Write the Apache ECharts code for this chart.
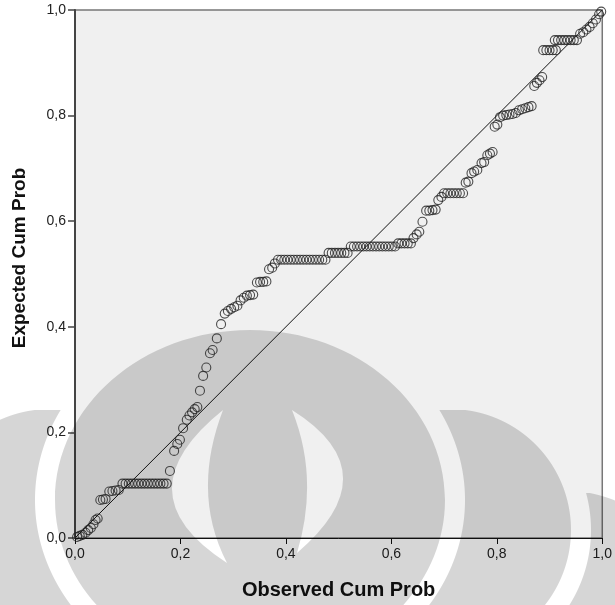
<!DOCTYPE html>
<html><head><meta charset="utf-8">
<script src="https://cdn.jsdelivr.net/npm/echarts@6/dist/echarts.min.js"></script>
<style>html,body{margin:0;padding:0;background:#fff}#c{width:615px;height:605px}</style>
</head><body><div id="c"></div>
<script>
// ---- data ----
const observedCumProb = [
  0.004,0.009,0.014,0.020,0.025,0.030,0.035,0.039,0.043,
  0.048,0.053,0.058,
  0.065,0.071,0.077,0.083,
  0.090,0.096,0.102,0.108,0.114,0.120,0.126,0.132,0.138,0.144,0.150,0.156,0.162,0.168,0.174,
  0.180,0.188,0.194,0.199,0.205,0.212,0.217,0.222,0.227,0.232,0.237,0.243,0.249,0.256,0.261,0.269,0.277,
  0.284,0.290,0.296,0.302,0.308,0.314,0.320,0.326,0.332,0.338,0.345,0.351,0.357,0.363,0.368,0.374,0.379,
  0.385,0.391,0.397,0.403,0.409,0.415,0.421,0.427,0.433,0.439,0.445,0.451,0.457,0.463,0.469,0.475,
  0.481,0.487,0.493,0.499,0.505,0.511,0.517,
  0.523,0.529,0.535,0.541,0.547,0.553,0.559,0.565,0.571,0.577,0.583,0.589,0.595,0.601,0.607,
  0.613,0.619,0.625,0.631,0.637,
  0.642,0.648,0.653,0.659,0.666,0.672,0.678,0.684,0.689,0.695,
  0.700,0.706,0.712,0.718,0.724,0.730,0.736,
  0.741,0.746,0.752,0.757,0.763,0.771,0.776,0.782,0.787,0.792,
  0.796,0.801,0.806,0.812,0.818,0.824,0.830,0.836,0.842,0.848,0.854,0.860,0.866,
  0.871,0.876,0.881,0.886,
  0.888,0.894,0.900,0.906,0.912,
  0.910,0.916,0.922,0.928,0.934,0.940,0.946,0.952,
  0.958,0.964,0.970,0.976,0.982,0.988,0.994,0.998
];
const expectedCumProb = [
  0.002,0.004,0.006,0.010,0.015,0.019,0.026,0.034,0.037,
  0.072,0.073,0.074,
  0.088,0.089,0.090,0.091,
  0.103,0.103,0.103,0.103,0.103,0.103,0.103,0.103,0.103,0.103,0.103,0.103,0.103,0.103,0.103,
  0.127,0.165,0.178,0.186,0.208,0.224,0.232,0.238,0.244,0.248,0.279,0.307,0.323,0.350,0.356,0.378,0.405,
  0.425,0.430,0.434,0.437,0.440,0.450,0.455,0.459,0.460,0.461,0.484,0.485,0.485,0.486,0.509,0.512,0.520,
  0.527,0.527,0.527,0.527,0.527,0.527,0.527,0.527,0.527,0.527,0.527,0.527,0.527,0.527,0.527,0.527,
  0.540,0.540,0.540,0.540,0.540,0.540,0.540,
  0.552,0.552,0.552,0.552,0.552,0.552,0.552,0.552,0.552,0.552,0.552,0.552,0.552,0.552,0.552,
  0.558,0.558,0.558,0.558,0.558,
  0.568,0.575,0.580,0.599,0.620,0.620,0.621,0.622,0.640,0.646,
  0.653,0.653,0.653,0.653,0.653,0.653,0.653,
  0.673,0.675,0.691,0.694,0.697,0.710,0.712,0.725,0.728,0.731,
  0.779,0.783,0.797,0.800,0.801,0.802,0.803,0.805,0.810,0.812,0.814,0.816,0.818,
  0.856,0.862,0.867,0.873,
  0.924,0.924,0.924,0.924,0.924,
  0.943,0.943,0.943,0.943,0.943,0.943,0.943,0.943,
  0.955,0.958,0.963,0.968,0.975,0.982,0.992,0.997
];
const tickLabels = ['0,0','0,2','0,4','0,6','0,8','1,0'];
const tickValues = [0, 0.2, 0.4, 0.6, 0.8, 1.0];
const refLineX = [0, 1];
const refLineY = [0, 1];
const xTitle = 'Observed Cum Prob';
const yTitle = 'Expected Cum Prob';

// ---- background watermark (decoration, not data) ----
const WM_FILL = 'rgba(0,0,0,0.16)';
const DomeShape = echarts.graphic.extendShape({
  type: 'wmDome',
  shape: { cx: 0, cy: 0, rx: 0, ry: 0, holes: [] },
  buildPath(ctx, s) {
    const k = 0.5523, cx = s.cx, cy = s.cy, rx = s.rx, ry = s.ry, kx = rx * k, ky = ry * k;
    ctx.moveTo(cx + rx, cy);
    ctx.bezierCurveTo(cx + rx, cy + ky, cx + kx, cy + ry, cx, cy + ry);
    ctx.bezierCurveTo(cx - kx, cy + ry, cx - rx, cy + ky, cx - rx, cy);
    ctx.bezierCurveTo(cx - rx, cy - ky, cx - kx, cy - ry, cx, cy - ry);
    ctx.bezierCurveTo(cx + kx, cy - ry, cx + rx, cy - ky, cx + rx, cy);
    ctx.closePath();
    (s.holes || []).forEach(h => {
      ctx.moveTo(h[0], h[1]);
      ctx.quadraticCurveTo(h[2], h[3], h[4], h[5]);
      ctx.quadraticCurveTo(h[6], h[7], h[0], h[1]);
      ctx.closePath();
    });
  }
});
echarts.graphic.registerShape('wmDome', DomeShape);

function halfW(E, y) { const d = (y - E.cy) / E.ry; return Math.abs(d) < 1 ? E.rx * Math.sqrt(1 - d * d) : -1; }
function piece(A, B, side, y0, y1) {
  const inner = [], outer = [];
  for (let y = y0; y <= y1; y += 1) {
    const ha = halfW(A, y); if (ha < 0) continue;
    const hb = halfW(B, y);
    let lo, hi;
    if (side > 0) { hi = A.cx + ha; lo = hb < 0 ? A.cx - ha : Math.max(A.cx - ha, B.cx + hb); }
    else { lo = A.cx - ha; hi = hb < 0 ? A.cx + ha : Math.min(A.cx + ha, B.cx - hb); }
    if (hi > lo) { inner.push([lo, y]); outer.push([hi, y]); }
  }
  return inner.concat(outer.reverse());
}
const gapE = { cx: 250, cy: 500, rx: 215, ry: 190 };
const leafR = { cx: 450, cy: 530, rx: 121, ry: 121 };
const leafL = { cx: 50, cy: 530, rx: 121, ry: 121 };
const holeR = { cx: 450, cy: 530, rx: 141, ry: 141 };
const outerR = { cx: 560, cy: 640, rx: 150, ry: 150 };

const watermark = [
  { type: 'wmDome', silent: true, z: 1,
    shape: { cx: 250, cy: 500, rx: 195, ry: 170,
      holes: [[223, 410, 119, 493.5, 227, 563, 191, 493.5],
              [292, 410, 319.5, 478.5, 297, 553, 391.5, 472.5]] },
    style: { fill: WM_FILL } },
  { type: 'polygon', silent: true, z: 1, shape: { points: piece(leafR, gapE, 1, 380, 606) }, style: { fill: WM_FILL } },
  { type: 'polygon', silent: true, z: 1, shape: { points: piece(leafL, gapE, -1, 380, 606) }, style: { fill: WM_FILL } },
  { type: 'polygon', silent: true, z: 1, shape: { points: piece(outerR, holeR, 1, 380, 606) }, style: { fill: WM_FILL } }
];

const FONT = 'Liberation Sans, Arial, sans-serif';
const fmt = v => { const i = tickValues.findIndex(t => Math.abs(t - v) < 1e-6); return i >= 0 ? tickLabels[i] : ''; };

const chart = echarts.init(document.getElementById('c'), null, { renderer: 'canvas' });
chart.setOption({
  animation: false,
  graphic: watermark,
  grid: { left: 75, right: 12, top: 10, bottom: 67, show: true, backgroundColor: '#f0f0f0',
          borderColor: '#777', borderWidth: 1.5, containLabel: false },
  xAxis: {
    type: 'value', min: 0, max: 1, interval: 0.2,
    name: xTitle, nameLocation: 'middle', nameGap: 42,
    nameTextStyle: { fontFamily: FONT, fontSize: 20, fontWeight: 'bold', color: '#111' },
    axisLine: { show: true, onZero: false, lineStyle: { color: '#111', width: 1 } },
    axisTick: { show: true, length: 6, lineStyle: { color: '#111' } },
    axisLabel: { formatter: fmt, fontFamily: FONT, fontSize: 14, color: '#222', margin: 9 },
    splitLine: { show: false }
  },
  yAxis: {
    type: 'value', min: 0, max: 1, interval: 0.2,
    name: yTitle, nameLocation: 'middle', nameGap: 46, nameRotate: 90,
    nameTextStyle: { fontFamily: FONT, fontSize: 19, fontWeight: 'bold', color: '#111', padding: [0, 0, 0, 32] },
    axisLine: { show: true, onZero: false, lineStyle: { color: '#444', width: 2 } },
    axisTick: { show: true, length: 7, lineStyle: { color: '#444', width: 1.5 } },
    axisLabel: { formatter: fmt, fontFamily: FONT, fontSize: 14, color: '#222', margin: 9 },
    splitLine: { show: false }
  },
  series: [
    { type: 'line', data: refLineX.map((x, i) => [x, refLineY[i]]), symbol: 'none', silent: true,
      lineStyle: { color: '#111', width: 1 }, z: 3 },
    { type: 'scatter', data: observedCumProb.map((x, i) => [x, expectedCumProb[i]]),
      symbol: 'circle', symbolSize: 9, z: 4,
      itemStyle: { color: 'rgba(0,0,0,0)', borderColor: '#222', borderWidth: 1.1 } }
  ]
});
</script>
</body></html>
